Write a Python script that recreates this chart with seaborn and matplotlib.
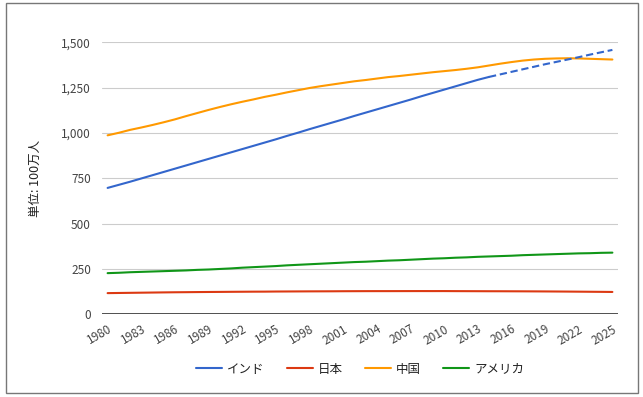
import pandas as pd
import matplotlib
matplotlib.use("Agg")
import matplotlib.pyplot as plt
from matplotlib.lines import Line2D
from matplotlib.patches import Rectangle
import seaborn as sns

# population in millions, 1980-2025
years = list(range(1980, 2026))
india = [697, 714, 731, 749, 767, 785, 803, 821, 839, 857,
         875, 893, 911, 929, 947, 965, 984, 1002, 1021, 1039,
         1057, 1075, 1094, 1112, 1130, 1148, 1166, 1184, 1203, 1221,
         1239, 1257, 1275, 1293, 1309, 1323, 1337, 1351, 1365, 1379,
         1392, 1405, 1418, 1432, 1445, 1458]
japan = [116.8, 117.6, 118.4, 119.2, 120.0, 120.8, 121.5, 122.0, 122.6, 123.1,
         123.5, 124.0, 124.4, 124.8, 125.0, 125.6, 125.9, 126.2, 126.5, 126.7,
         126.9, 127.3, 127.5, 127.7, 127.8, 127.8, 127.9, 128.0, 128.1, 128.0,
         128.1, 127.8, 127.6, 127.4, 127.2, 127.1, 126.9, 126.7, 126.4, 126.1,
         125.7, 125.3, 124.8, 124.3, 123.8, 123.2]
china = [987, 1001, 1017, 1030, 1044, 1059, 1075, 1093, 1110, 1127,
         1143, 1158, 1172, 1185, 1199, 1211, 1224, 1236, 1248, 1258,
         1267, 1276, 1285, 1292, 1300, 1308, 1314, 1321, 1328, 1335,
         1341, 1347, 1354, 1362, 1372, 1382, 1391, 1399, 1405, 1409,
         1411, 1412, 1411, 1409, 1407, 1405]
usa = [227, 229, 232, 234, 236, 238, 240, 242, 245, 247,
       250, 253, 257, 260, 263, 266, 270, 273, 276, 279,
       282, 285, 288, 290, 293, 296, 298, 301, 304, 307,
       309, 312, 314, 317, 319, 321, 323, 326, 328, 330,
       332, 334, 336, 337, 339, 340]
last_actual = 2014  # India drawn dashed after this

countries = ["インド", "日本", "中国", "アメリカ"]
colors = ["#3366cc", "#dc3912", "#ff9900", "#109618"]
yticks = [0, 250, 500, 750, 1000, 1250, 1500]
xticks = list(range(1980, 2026, 3))

sns.set_style("white")
plt.rcParams["font.family"] = ["Noto Sans CJK JP", "DejaVu Sans"]

wide = pd.DataFrame({"year": years, "インド": india, "日本": japan,
                     "中国": china, "アメリカ": usa})
df = wide.melt(id_vars="year", var_name="country", value_name="pop")
is_india = df["country"] == "インド"
solid = df[~(is_india & (df["year"] > last_actual))]
proj = df[is_india & (df["year"] >= last_actual)]

fig = plt.figure(figsize=(6.43, 3.97), dpi=100)
ax = fig.add_axes([102 / 643, 1 - 314.3 / 397, 516 / 643, 272 / 397])

sns.lineplot(data=solid, x="year", y="pop", hue="country", hue_order=countries,
             palette=colors, linewidth=1.5, errorbar=None, legend=False, ax=ax)
sns.lineplot(data=proj, x="year", y="pop", color=colors[0], linewidth=1.5,
             linestyle=(0, (3.5, 1.8)), errorbar=None, legend=False, ax=ax)

ax.set_xlim(1979.5, 2025.5)
ax.set_ylim(0, 1500)
ax.set_yticks(yticks)
ax.set_yticklabels([f"{v:,}" for v in yticks])
ax.set_xticks(xticks)
ax.set_xticklabels([str(y) for y in xticks], rotation=30, ha="right",
                   rotation_mode="anchor")
ax.tick_params(axis="both", length=0, labelsize=8.5, colors="#444444")
ax.tick_params(axis="y", pad=8)
ax.tick_params(axis="x", pad=6)
ax.set_xlabel("")
ax.set_ylabel("")
ax.yaxis.grid(True, color="#cccccc", linewidth=0.8)
ax.set_axisbelow(True)
ax.axhline(0, color="#333333", linewidth=1.2, zorder=1.5)
for s in ax.spines.values():
    s.set_visible(False)

fig.text(35 / 643, 1 - 178 / 397, "単位: 100万人", rotation=90,
         ha="center", va="center", fontsize=9, color="#222222")

handles = [Line2D([], [], color=c, linewidth=1.5) for c in colors]
fig.legend(handles, countries, loc="center", bbox_to_anchor=(360 / 643, 1 - 369 / 397),
           ncol=4, frameon=False, fontsize=9, handlelength=2.1, handletextpad=0.4,
           columnspacing=1.75, labelcolor="#222222")

fig.add_artist(Rectangle((6 / 643, 4 / 397), 631.5 / 643, 390.5 / 397,
                         transform=fig.transFigure, fill=False,
                         edgecolor="#777777", linewidth=1))

fig.savefig("out.png", dpi=100)
